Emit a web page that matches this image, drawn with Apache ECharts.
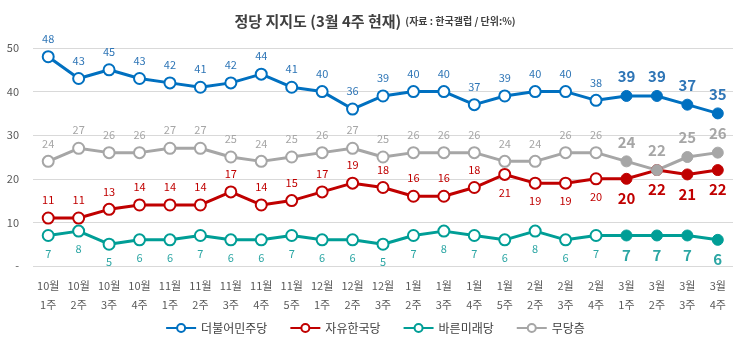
<!DOCTYPE html>
<html>
<head>
<meta charset="utf-8">
<script src="https://cdn.jsdelivr.net/npm/echarts@6/dist/echarts.min.js"></script>
<style>
  html, body { margin: 0; padding: 0; background: #fff; }
  #main { width: 750px; height: 353px; }
</style>
</head>
<body>
<div id="main"></div>
<script>
// x축
var weeks = ['10월\n1주', '10월\n2주', '10월\n3주', '10월\n4주', '11월\n1주', '11월\n2주', '11월\n3주', '11월\n4주',
    '11월\n5주', '12월\n1주', '12월\n2주', '12월\n3주', '1월\n2주', '1월\n3주', '1월\n4주', '1월\n5주',
    '2월\n2주', '2월\n3주', '2월\n4주', '3월\n1주', '3월\n2주', '3월\n3주', '3월\n4주'];
// 정당별 지지도
var minjoo = [48, 43, 45, 43, 42, 41, 42, 44, 41, 40, 36, 39, 40, 40, 37, 39, 40, 40, 38, 39, 39, 37, 35];
var hanguk = [11, 11, 13, 14, 14, 14, 17, 14, 15, 17, 19, 18, 16, 16, 18, 21, 19, 19, 20, 20, 22, 21, 22];
var bareun = [7, 8, 5, 6, 6, 7, 6, 6, 7, 6, 6, 5, 7, 8, 7, 6, 8, 6, 7, 7, 7, 7, 6];
var mudang = [24, 27, 26, 26, 27, 27, 25, 24, 25, 26, 27, 25, 26, 26, 26, 24, 24, 26, 26, 24, 22, 25, 26];
var yTicks = [0, 10, 20, 30, 40, 50];

var FONT = 'Noto Sans CJK KR';
var recentFrom = 19; // 3월 데이터는 굵게

//점 데이터 만들기
function buildPoints(values, color, labelColor, posFn) {
    let points = [];
    for (let i = 0; i < values.length; i++) {
        let recent = i >= recentFrom;
        points.push({
            value: values[i],
            symbol: recent ? 'circle' : 'emptyCircle',
            itemStyle: {color: color, borderColor: color, borderWidth: recent ? 1 : 2.5},
            label: {
                position: posFn(i),
                fontSize: recent ? 15 : 11,
                fontWeight: recent ? 'bold' : 'normal',
                color: labelColor
            }
        });
    }
    return points;
}

function makeSeries(name, values, color, labelColor, posFn) {
    return {
        name: name,
        type: 'line',
        data: buildPoints(values, color, labelColor, posFn),
        symbolSize: 11,
        lineStyle: {width: 3, color: color},
        itemStyle: {color: color},
        label: {show: true, distance: 6, fontFamily: FONT},
        emphasis: {disabled: true}
    };
}

var chart = echarts.init(document.getElementById('main'));
var option = {
    animation: false,
    textStyle: {fontFamily: FONT},
    title: {
        left: 'center',
        top: 7,
        text: '{a|정당 지지도 (3월 4주 현재)} {b|(자료 : 한국갤럽 / 단위:%)}',
        textStyle: {
            rich: {
                a: {fontSize: 15, fontWeight: 'bold', color: '#404040', fontFamily: FONT},
                b: {fontSize: 10, color: '#404040', fontFamily: FONT}
            }
        }
    },
    legend: {
        bottom: 14,
        left: 'center',
        itemWidth: 30,
        itemHeight: 10,
        itemGap: 22,
        textStyle: {fontSize: 12, color: '#404040', fontFamily: FONT},
        data: ['더불어민주당', '자유한국당', '바른미래당', '무당층']
    },
    grid: {left: 33, right: 17, top: 48, bottom: 87},
    xAxis: {
        type: 'category',
        data: weeks,
        axisLine: {show: false},
        axisTick: {show: false},
        axisLabel: {interval: 0, fontSize: 11, color: '#595959', lineHeight: 19, margin: 10, fontFamily: FONT}
    },
    yAxis: {
        type: 'value',
        min: yTicks[0],
        max: yTicks[yTicks.length - 1],
        interval: 10,
        axisLabel: {
            fontSize: 11, color: '#595959', margin: 14, fontFamily: FONT,
            formatter: function (v) { return v === 0 ? '-' : v; }
        },
        splitLine: {lineStyle: {color: '#D9D9D9', width: 1}}
    },
    series: [
        makeSeries('더불어민주당', minjoo, '#0070C0', '#2E75B6', function () { return 'top'; }),
        makeSeries('자유한국당', hanguk, '#C00000', '#C00000', function (i) { return i >= 15 ? 'bottom' : 'top'; }),
        makeSeries('바른미래당', bareun, '#009E96', '#2CA6A4', function () { return 'bottom'; }),
        makeSeries('무당층', mudang, '#A6A6A6', '#A6A6A6', function () { return 'top'; })
    ]
};
chart.setOption(option);
</script>
</body>
</html>
